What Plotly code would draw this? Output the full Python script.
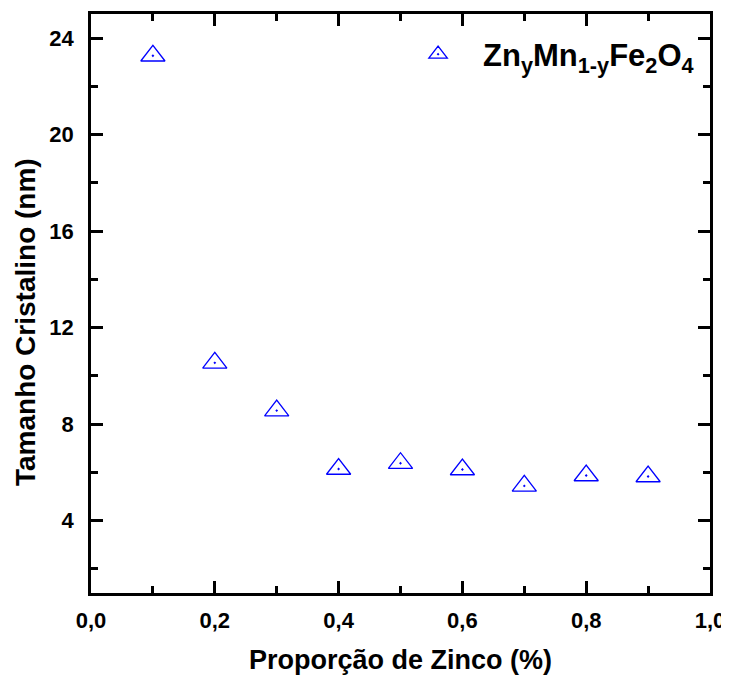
import plotly.graph_objects as go

zn_fraction = [0.1, 0.2, 0.3, 0.4, 0.5, 0.6, 0.7, 0.8, 0.9]
crystal_size_nm = [23.27, 10.54, 8.56, 6.14, 6.38, 6.12, 5.44, 5.87, 5.83]
series_name = "Zn<sub>y</sub>Mn<sub>1-y</sub>Fe<sub>2</sub>O<sub>4</sub>"
x_title = "Proporção de Zinco (%)"
y_title = "Tamanho Cristalino (nm)"

FONT = "Liberation Sans, Arial, sans-serif"

fig = go.Figure()
fig.add_trace(go.Scatter(
    x=zn_fraction, y=crystal_size_nm, mode="markers", name=series_name,
    marker=dict(symbol="triangle-up-open-dot", size=21, color="#0000FF",
                line=dict(width=1.3, color="#0000FF")),
))

axis_common = dict(
    showline=True, linecolor="black", linewidth=2.5, mirror="allticks",
    ticks="inside", ticklen=12, tickwidth=2.5, tickcolor="black",
    showgrid=False, zeroline=False, automargin=False,
    tickfont=dict(family=FONT, size=22, color="black", weight="bold"),
)

fig.update_xaxes(
    range=[0, 1], dtick=0.2, tick0=0, tickformat=".1f",
    minor=dict(dtick=0.1, ticks="inside", ticklen=7, tickwidth=2.5, tickcolor="black"),
    ticklabelstandoff=6,
    title=dict(text=x_title, font=dict(family=FONT, size=27, color="black", weight="bold"), standoff=20),
    **axis_common,
)
fig.update_yaxes(
    range=[1, 25], dtick=4, tick0=0,
    minor=dict(dtick=2, ticks="inside", ticklen=7, tickwidth=2.5, tickcolor="black"),
    ticklabelstandoff=10,
    **axis_common,
)

# y-axis title placed as rotated text (the original sits a bit below the plot centre)
fig.add_annotation(
    text=y_title, xref="paper", yref="paper", x=-0.1066, y=0.468,
    xanchor="center", yanchor="middle", textangle=-90, showarrow=False,
    font=dict(family=FONT, size=28, color="black", weight="bold"),
)

# page body has an 8px margin, so the figure is sized to fit the remaining window
fig.update_layout(
    width=721, height=667,
    margin=dict(l=83, r=19, t=6, b=82, autoexpand=False),
    paper_bgcolor="white", plot_bgcolor="white",
    separators=",.",
    showlegend=True,
    legend=dict(x=0.488, y=0.93, xanchor="left", yanchor="middle",
                bgcolor="rgba(0,0,0,0)", itemwidth=80,
                font=dict(family=FONT, size=31, color="black", weight="bold")),
)

fig.write_html("out.html")
